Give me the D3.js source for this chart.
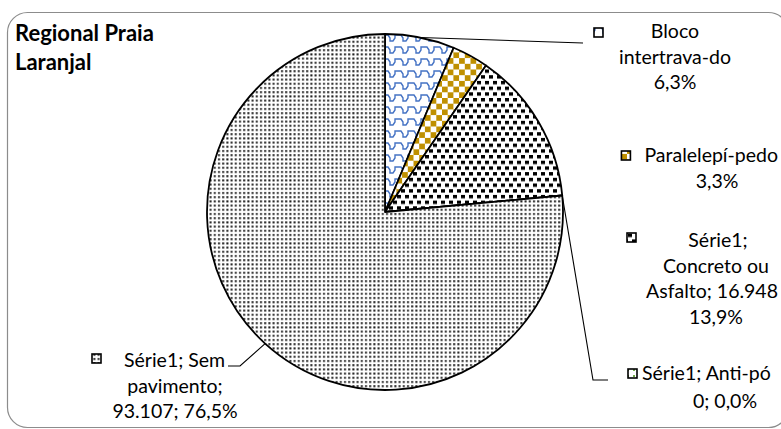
<!DOCTYPE html>
<html>
<head>
<meta charset="utf-8">
<script src="https://cdn.jsdelivr.net/npm/d3@7"></script>
<style>
  html, body { margin: 0; padding: 0; background: #fff; }
  svg { display: block; }
  text { font-family: Lato, "Noto Sans", sans-serif; fill: #000; }
</style>
</head>
<body>
<svg id="chart" width="781" height="429"></svg>
<script>
// ---- data ----
const categories = ["Bloco intertravado", "Paralelepípedo", "Concreto ou Asfalto", "Anti-pó", "Sem pavimento"];
const values = [7667, 4020, 16948, 0, 93107];
const seriesName = "Série1";
const titleLines = ["Regional Praia", "Laranjal"];
const labelLines = [
  ["Bloco", "intertrava-do", "{p}"],
  ["Paralelepí-pedo", "{p}"],
  ["Série1;", "Concreto ou", "Asfalto; {v}", "{p}"],
  ["Série1; Anti-pó", "{v}; {p}"],
  ["Série1; Sem", "pavimento;", "{v}; {p}"]
];

// ---- setup ----
const W = 781, H = 429;
const svg = d3.select("#chart");
const loc = d3.formatLocale({decimal: ",", thousands: ".", grouping: [3], currency: ["R$", ""]});
const fmtV = loc.format(",.0f");
const total = d3.sum(values);
const fmtP = v => loc.format(".1f")(v / total * 100) + "%";

const defs = svg.append("defs");
function pat(id, w, h, build) {
  const p = defs.append("pattern").attr("id", id).attr("patternUnits", "userSpaceOnUse")
    .attr("width", w).attr("height", h);
  build(p);
}
pat("p0", 13, 12, p => {
  p.append("rect").attr("width", 13).attr("height", 12).attr("fill", "#fff");
  p.append("path").attr("d", "M0,3 L3,3 L5,6 L5,9 L8,9 L10,6 L10,3 L13,3")
    .attr("fill", "none").attr("stroke", "#4472C4").attr("stroke-width", 1.4);
});
pat("p1", 11.4, 11.4, p => {
  p.append("rect").attr("width", 11.4).attr("height", 11.4).attr("fill", "#fff");
  p.append("rect").attr("width", 5.7).attr("height", 5.7).attr("fill", "#BF9000");
  p.append("rect").attr("x", 5.7).attr("y", 5.7).attr("width", 5.7).attr("height", 5.7).attr("fill", "#BF9000");
});
pat("p2", 8, 11.4, p => {
  p.append("rect").attr("width", 8).attr("height", 11.4).attr("fill", "#fff");
  p.append("rect").attr("x", 0).attr("y", 0).attr("width", 4).attr("height", 3.4).attr("fill", "#000");
  p.append("rect").attr("x", 4).attr("y", 5.7).attr("width", 4).attr("height", 3.4).attr("fill", "#000");
});
pat("p3", 6, 6, p => {
  p.append("rect").attr("width", 6).attr("height", 6).attr("fill", "#fff");
  p.append("rect").attr("x", 3).attr("y", 3).attr("width", 2).attr("height", 2).attr("fill", "#70AD47");
});
pat("p4", 4.2, 4.2, p => {
  p.append("rect").attr("width", 4.2).attr("height", 4.2).attr("fill", "#fff");
  p.append("rect").attr("x", 1).attr("y", 1).attr("width", 2).attr("height", 2).attr("fill", "#222");
});

// chart border
svg.append("rect").attr("x", 7.5).attr("y", 12.5).attr("width", 781).attr("height", 415)
  .attr("rx", 20).attr("ry", 20).attr("fill", "#fff").attr("stroke", "#8c8c8c").attr("stroke-width", 1.2);

// title
svg.append("text").attr("x", 15).attr("y", 0)
  .style("font-weight", "bold").style("font-size", "22px")
  .selectAll("tspan").data(titleLines).join("tspan")
  .attr("x", 15).attr("y", (d, i) => 41 + i * 29).text(d => d);

// pie
const cx = 385, cy = 212, R = 178;
const pie = d3.pie().sort(null).value(d => d)(values);
const arc = d3.arc().innerRadius(0).outerRadius(R);
const g = svg.append("g").attr("transform", `translate(${cx},${cy})`);
g.selectAll("path").data(pie).join("path")
  .attr("d", arc)
  .attr("fill", (d, i) => `url(#p${i})`)
  .attr("stroke", "#000").attr("stroke-width", 1.8).attr("stroke-linejoin", "round");

function midPt(d) {
  const a = (d.startAngle + d.endAngle) / 2;
  return [cx + R * Math.sin(a), cy - R * Math.cos(a)];
}

const layout = [
  {mk: [594, 28], first: {anchor: "middle", x: 675}, cxl: 675, y0: 38, lh: 25.5, leader: [[583, 43]]},
  {mk: [627, 151], first: {anchor: "start", x: 650}, cxl: 717, y0: 162, lh: 26, leader: null},
  {mk: [627, 233], first: {anchor: "middle", x: 718}, cxl: 716, y0: 247, lh: 25.5, leader: null},
  {mk: [628, 369], first: {anchor: "start", x: 642}, cxl: 725, y0: 380, lh: 28, leader: [[593, 380], [608, 380]]},
  {mk: [92, 354], first: {anchor: "start", x: 124}, cxl: 175, y0: 367, lh: 25.5, leader: [[240, 366], [228, 366]]}
];

const maxRight = 778;
const lab = svg.append("g").style("font-size", "19.5px");
pie.forEach((d, i) => {
  const L = layout[i];
  const lines = labelLines[i].map(s => s.replace("{p}", fmtP(values[i])).replace("{v}", fmtV(values[i])));
  if (L.leader) {
    const pts = [midPt(d)].concat(L.leader);
    lab.append("path").attr("d", d3.line()(pts)).attr("fill", "none")
      .attr("stroke", "#000").attr("stroke-width", 1.1);
  }
  const mk = lab.append("rect").attr("x", L.mk[0]).attr("y", L.mk[1]).attr("width", 9).attr("height", 9)
    .attr("fill", `url(#p${i})`).attr("stroke", "#000").attr("stroke-width", 1.6);
  lines.forEach((s, j) => {
    const t = lab.append("text").attr("y", L.y0 + j * L.lh).text(s);
    if (j === 0) t.attr("x", L.first.x).attr("text-anchor", L.first.anchor);
    else t.attr("x", L.cxl).attr("text-anchor", "middle");
    // keep text inside the picture
    const bb = t.node().getBBox();
    const over = bb.x + bb.width - maxRight;
    if (over > 0) {
      t.attr("x", +t.attr("x") - over);
      if (j === 0 && L.first.anchor === "start") mk.attr("x", L.mk[0] - over);
    }
  });
});
</script>
</body>
</html>
